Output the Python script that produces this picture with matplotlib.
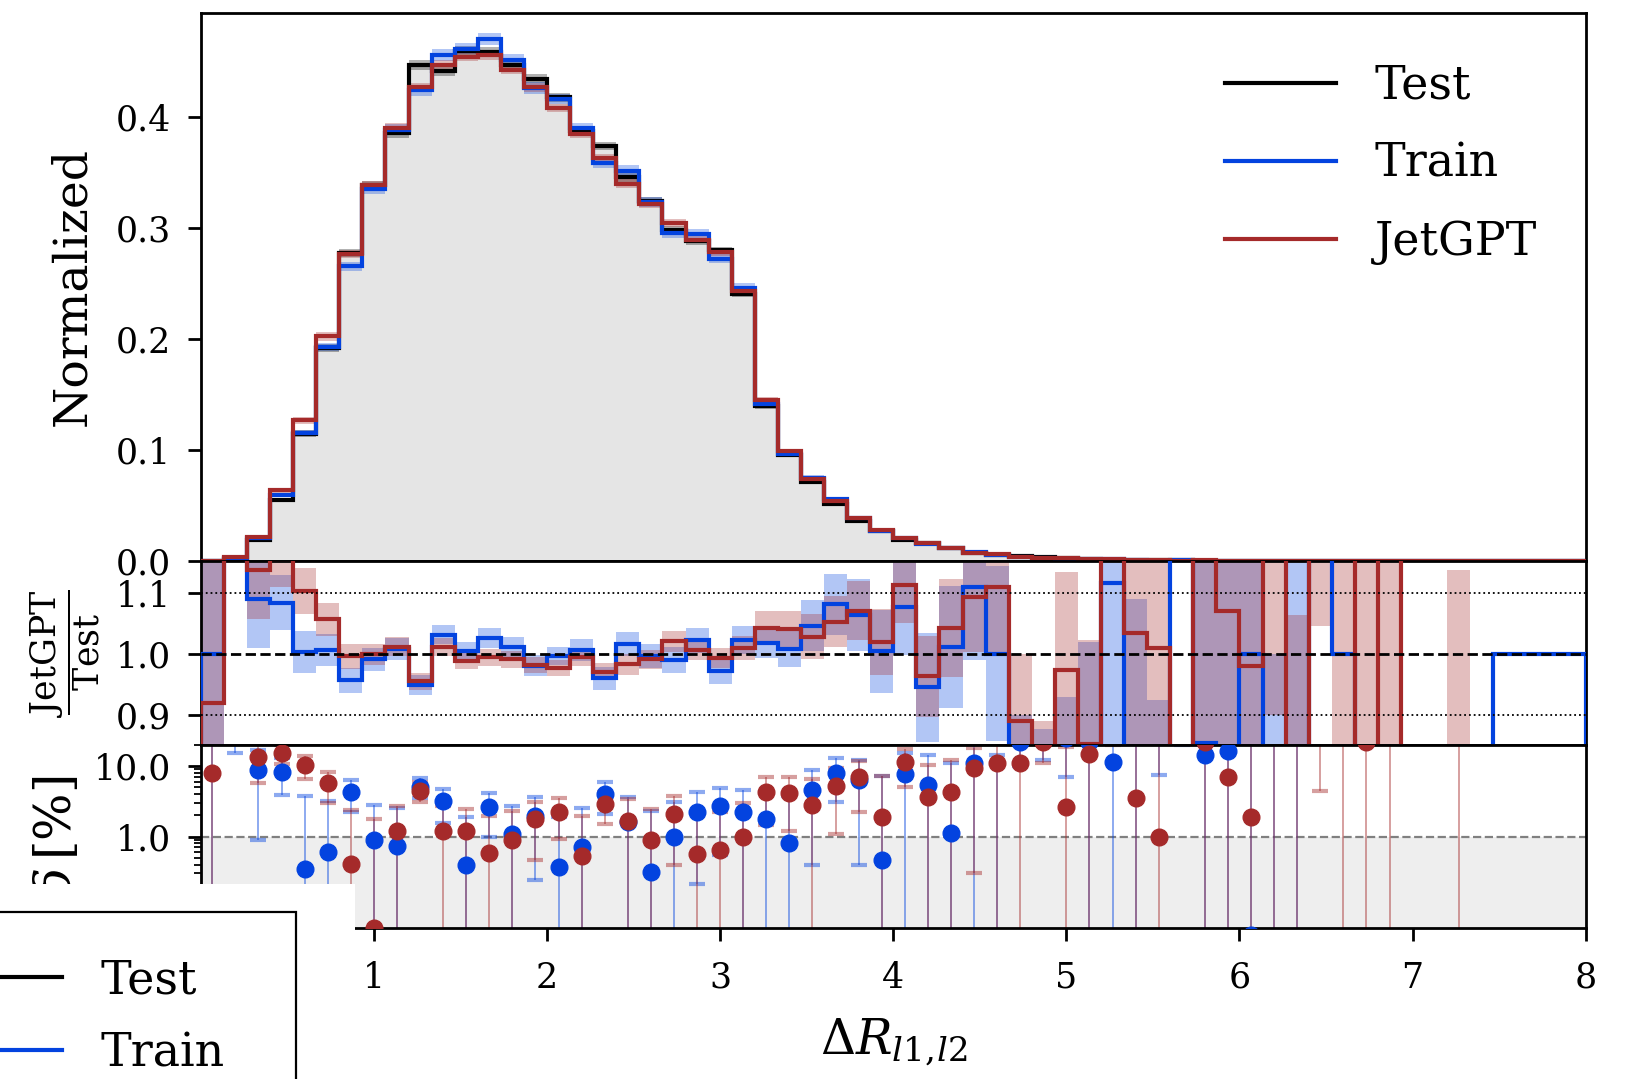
import numpy as np
import matplotlib
matplotlib.use("Agg")
import matplotlib.pyplot as plt
from matplotlib.patches import Rectangle
from matplotlib.lines import Line2D
from matplotlib.ticker import FormatStrFormatter, FixedLocator

plt.rcParams['font.family'] = ['DejaVu Serif']
plt.rcParams['mathtext.fontset'] = 'dejavuserif'

# 60 bins of Delta R between the two leptons
bin_edges = np.linspace(0.0, 8.0, 61)

# normalized test histogram
test_hist = [
    0.0004, 0.0022, 0.019, 0.055, 0.1148, 0.1915, 0.2775, 0.3385, 0.3855, 0.4467,
    0.4417, 0.4597, 0.4582, 0.4465, 0.4345, 0.4175, 0.387, 0.3735, 0.3458, 0.3245,
    0.2985, 0.2878, 0.2800, 0.2408, 0.1392, 0.0952, 0.0715, 0.0513, 0.0363, 0.0271,
    0.0188, 0.0165, 0.0115, 0.0069, 0.0054, 0.0043, 0.0032, 0.0024, 0.0018, 0.0013,
    0.0009, 0.0007, 0.0005, 0.0004, 0.0003, 0.00025, 0.0002, 0.00015, 0.0001, 0.00008,
    0.00006, 0.00005, 0.00003, 0.00002, 0.00002, 0.00001, 0.00001, 0.00001, 0.00001, 0.00001,
]

# Train / Test ratio and its uncertainty
train_ratio = [
    1.0004, 1.35, 1.089, 1.084, 1.0034, 1.006, 0.9567, 0.991, 1.0073, 0.949,
    1.0316, 1.004, 1.026, 1.0107, 0.9806, 0.9963, 1.0072, 0.960, 1.016, 0.9969,
    0.9902, 1.0226, 0.9726, 1.0226, 1.0178, 1.008, 1.046, 1.081, 1.063, 1.0046,
    1.077, 0.9456, 1.0111, 1.11, 1.0003, 0.78, 0.74, 0.75, 0.78, 1.116,
    0.60, 0.60, 1.40, 0.855, 0.836, 1.0004, 0.0, 0.0, 2.0, 1.0,
    0.0, 0.0, 0.0, 0.0, 0.0, 0.0, 1.0, 1.0, 1.0, 1.0,
]
train_ratio_err = [
    0.6, 0.194, 0.08, 0.045, 0.034, 0.026, 0.021, 0.019, 0.018, 0.016,
    0.016, 0.015, 0.016, 0.0167, 0.017, 0.015, 0.018, 0.019, 0.020, 0.020,
    0.021, 0.0205, 0.022, 0.023, 0.025, 0.030, 0.042, 0.050, 0.059, 0.068,
    0.079, 0.089, 0.10, 0.12, 0.143, 0.12, 0.137, 0.18, 0.24, 0.40,
    0.49, 0.325, 0.20, 0.30, 0.35, 0.40, 1.0, 1.3, 0.0, 0.0,
    0.0, 0.0, 0.0, 0.0, 0.0, 0.0, 0.0, 0.0, 0.0, 0.0,
]

# JetGPT / Test ratio and its uncertainty
jetgpt_ratio = [
    0.92, 1.6, 1.137, 1.155, 1.103, 1.057, 0.9959, 0.9995, 1.0118, 0.955,
    1.0118, 0.9882, 0.9942, 0.9912, 0.9822, 0.9774, 0.9947, 0.971, 0.9832, 0.991,
    1.0209, 1.0057, 0.9935, 1.010, 1.0424, 1.041, 1.0284, 1.053, 1.0706, 1.0192,
    1.113, 0.9632, 1.0424, 1.093, 1.11, 0.89, 0.78, 0.974, 0.852, 1.5,
    1.035, 1.0098, 0.0, 1.22, 1.07, 0.981, 1.6, 0.0, 1.6, 1.5,
    0.78, 1.6, 0.0, 0.0, 0.0, 0.0, 0.0, 0.0, 0.0, 0.0,
]
jetgpt_ratio_err = [
    0.5, 0.3, 0.08, 0.046, 0.037, 0.027, 0.020, 0.0175, 0.0156, 0.014,
    0.015, 0.013, 0.0136, 0.014, 0.0132, 0.0133, 0.0145, 0.014, 0.017, 0.0156,
    0.017, 0.016, 0.016, 0.020, 0.028, 0.029, 0.037, 0.042, 0.048, 0.054,
    0.063, 0.066, 0.08, 0.09, 0.11, 0.11, 0.11, 0.16, 0.17, 0.30,
    0.25, 0.22, 0.0, 0.40, 0.35, 0.40, 0.70, 1.064, 0.555, 1.0,
    0.45, 0.8, 0.0, 0.0, 1.138, 0.0, 0.0, 0.0, 0.0, 0.0,
]

labels = ["Test", "Train", "JetGPT"]
c_test, c_train, c_gen = "black", "#0343df", "#a52a2a"

edges = np.asarray(bin_edges)
centers = 0.5 * (edges[:-1] + edges[1:])
test = np.asarray(test_hist)
r_tr, e_tr = np.asarray(train_ratio), np.asarray(train_ratio_err)
r_gen, e_gen = np.asarray(jetgpt_ratio), np.asarray(jetgpt_ratio_err)

train = test * r_tr
gen = test * r_gen
# per-histogram uncertainty (ratio error shared between numerator and denominator)
err_test = test * e_gen / np.sqrt(2)
err_train = train * e_tr / np.sqrt(2)
err_gen = gen * e_gen / np.sqrt(2)

FW, FH = 1639, 1079
fig = plt.figure(figsize=(FW / 100, FH / 100), dpi=100)
L, W = 0.1225, 0.845
ax_main = fig.add_axes([L, 0.4801, W, 0.5083])
ax_rat = fig.add_axes([L, 0.3095, W, 0.1706], sharex=ax_main)
ax_del = fig.add_axes([L, 0.1399, W, 0.1696], sharex=ax_main)

LW = 3.0
BAND_A = 0.3

# ---- main panel: normalized distributions
ax_main.stairs(test, edges, fill=True, color="#e5e5e5", lw=0, zorder=1)
for h, e, c in [(test, err_test, c_test), (train, err_train, c_train), (gen, err_gen, c_gen)]:
    ax_main.stairs(h + e, edges, baseline=h - e, fill=True, color=c, alpha=BAND_A,
                   lw=1.2, zorder=2)
for h, c in [(test, c_test), (train, c_train), (gen, c_gen)]:
    ax_main.stairs(h, edges, color=c, lw=LW, zorder=3)
ax_main.set_ylim(0.0, 0.494)
ax_main.set_yticks([0.0, 0.1, 0.2, 0.3, 0.4])
ax_main.yaxis.set_major_formatter(FormatStrFormatter("%.1f"))
ax_main.set_ylabel("Normalized", fontsize=34)

handles = [Line2D([], [], color=c, lw=3) for c in (c_test, c_train, c_gen)]
ax_main.legend(handles, labels, loc="upper left", bbox_to_anchor=(0.7474, 0.9413),
               bbox_transform=fig.transFigure, frameon=False, fontsize=33,
               handlelength=2.42, handletextpad=0.85, labelspacing=0.72,
               borderpad=0, borderaxespad=0)

# ---- ratio panel
for r, e, c in [(r_tr, e_tr, c_train), (r_gen, e_gen, c_gen)]:
    ax_rat.stairs(r + e, edges, baseline=r - e, fill=True, color=c, alpha=BAND_A,
                  lw=1.4, zorder=2)
for r, c in [(r_tr, c_train), (r_gen, c_gen)]:
    ax_rat.stairs(r, edges, color=c, lw=LW, zorder=3)
ax_rat.axhline(1.0, color="black", ls="--", lw=2, zorder=5)
ax_rat.axhline(1.1, color="black", ls=":", lw=1.3, zorder=5)
ax_rat.axhline(0.9, color="black", ls=":", lw=1.3, zorder=5)
ax_rat.set_ylim(0.851, 1.152)
ax_rat.set_yticks([0.9, 1.0, 1.1])
ax_rat.yaxis.set_major_formatter(FormatStrFormatter("%.1f"))
ax_rat.set_ylabel(r"$\dfrac{\mathrm{JetGPT}}{\mathrm{Test}}$", fontsize=25)

# ---- relative deviation panel
ax_del.set_yscale("log")
ax_del.axhspan(1e-3, 1.0, color="#eeeeee", lw=0, zorder=0)
ax_del.axhline(1.0, color="grey", ls="--", lw=1.6, zorder=1)
for r, e, c in [(r_tr, e_tr, c_train), (r_gen, e_gen, c_gen)]:
    d = np.abs(r - 1.0) * 100.0
    d[d == 0] = np.nan
    ax_del.errorbar(centers, d, yerr=e * 100.0, fmt="none", ecolor=c, alpha=0.45,
                    elinewidth=1.4, capsize=5.5, capthick=3, zorder=2)
for r, c in [(r_tr, c_train), (r_gen, c_gen)]:
    d = np.abs(r - 1.0) * 100.0
    d[d == 0] = np.nan
    ax_del.plot(centers, d, "o", color=c, ms=12, ls="none", zorder=3)
ax_del.set_ylim(0.05, 20)
ax_del.yaxis.set_major_locator(FixedLocator([0.1, 1.0, 10.0]))
ax_del.yaxis.set_major_formatter(FormatStrFormatter("%.1f"))
ax_del.set_ylabel(r"$\delta\,[\%]$", fontsize=36)
ax_del.set_xlim(0, 8)
ax_del.set_xticks(range(0, 9))
ax_del.set_xlabel(r"$\Delta R_{l1,\!l2}$", fontsize=35, labelpad=16)

for ax in (ax_main, ax_rat, ax_del):
    for s in ax.spines.values():
        s.set_linewidth(2)
    ax.tick_params(axis="both", which="major", direction="out", length=9.5, width=2,
                   labelsize=25, pad=12)
    ax.tick_params(axis="both", which="minor", direction="out", length=5, width=1.3)
ax_del.tick_params(axis="x", which="major", pad=14)
for ax in (ax_main, ax_rat):
    ax.tick_params(axis="x", which="both", bottom=False, labelbottom=False)

ax_main.yaxis.set_label_coords(-0.076, 0.5)
ax_rat.yaxis.set_label_coords(-0.071, 0.5)
ax_del.yaxis.set_label_coords(-0.086, 0.5)

# lower-left legend box sitting on a white panel
fig.add_artist(Rectangle((0, 0), 355 / FW, 195 / FH, transform=fig.transFigure,
                         facecolor="white", edgecolor="none", zorder=4))
fig.add_artist(Rectangle((-0.1, -0.1), 0.1 + 296 / FW, 0.1 + 1 - 912 / FH,
                         transform=fig.transFigure, facecolor="white",
                         edgecolor="black", lw=1.6, zorder=5))
leg2 = fig.legend(handles, labels, loc="upper left",
                  bbox_to_anchor=((62 - 111) / FW, 1 - 958 / FH),
                  bbox_transform=fig.transFigure, fontsize=33, handlelength=2.42,
                  handletextpad=0.85, labelspacing=0.61, borderpad=0,
                  frameon=False, borderaxespad=0)
leg2.set_zorder(6)

fig.savefig("out.png", dpi=100)
